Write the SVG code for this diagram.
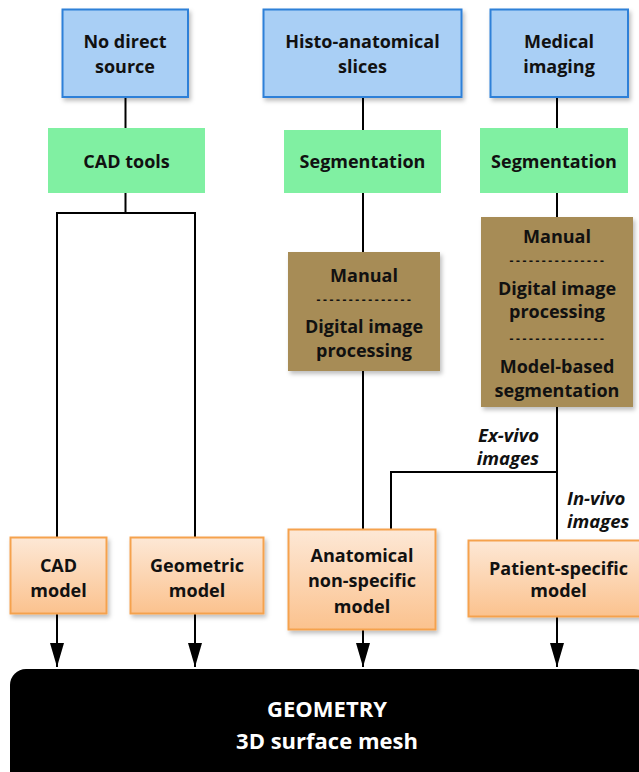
<svg xmlns="http://www.w3.org/2000/svg" width="639" height="772" viewBox="0 0 639 772">
<defs>
<linearGradient id="og" x1="0" y1="0" x2="0" y2="1">
<stop offset="0" stop-color="#fde8d6"/>
<stop offset="1" stop-color="#fbc28e"/>
</linearGradient>
<filter id="sh" x="-10%" y="-10%" width="130%" height="130%">
<feDropShadow dx="2" dy="3" stdDeviation="2" flood-color="#000" flood-opacity="0.25"/>
</filter>
<marker id="ah" viewBox="0 0 24 14" refX="24" refY="7" markerWidth="24" markerHeight="14" markerUnits="userSpaceOnUse" orient="auto">
<path d="M0,0 L24,7 L0,14 Z" fill="#000"/>
</marker>
<style>
text{font-family:"Open Sans","Liberation Sans",sans-serif;font-weight:bold;text-anchor:middle;fill:#111;}
.t{font-size:18px;}
.d{font-size:12px;letter-spacing:2.6px;}
.it{font-size:18.5px;font-style:italic;}
.w{fill:#fff;font-size:22px;}
.blue{fill:#a9cff5;stroke:#2f80d8;stroke-width:2;}
.green{fill:#80f0a2;}
.brown{fill:#a78c57;}
.orange{fill:url(#og);stroke:#f5a24e;stroke-width:2;}
.c{fill:none;stroke:#000;stroke-width:2;}
</style>
</defs>
<rect width="639" height="772" fill="#fff"/>

<g id="connectors">
<path class="c" d="M125.5,97 V128"/>
<path class="c" d="M125.5,193 V213 M57,213 H195 M57,212 V537 M195,212 V537"/>
<path class="c" d="M363,97 V130 M363,192 V252 M363,371 V529"/>
<path class="c" d="M557,97 V128 M557,192 V217 M557,407 V540"/>
<path class="c" d="M391,529 V472 H557"/>
<path class="c" d="M57,614 V667" marker-end="url(#ah)"/>
<path class="c" d="M195,614 V667" marker-end="url(#ah)"/>
<path class="c" d="M363,630 V667" marker-end="url(#ah)"/>
<path class="c" d="M557,617 V667" marker-end="url(#ah)"/>
</g>

<g id="n-nodirect">
<rect class="blue" x="62.5" y="9.5" width="125.5" height="87.5" filter="url(#sh)"/>
<text class="t" x="125" y="48">No direct</text>
<text class="t" x="125" y="73">source</text>
</g>
<g id="n-histo">
<rect class="blue" x="263.5" y="9.5" width="198" height="87.5" filter="url(#sh)"/>
<text class="t" x="362.5" y="48">Histo-anatomical</text>
<text class="t" x="362.5" y="73">slices</text>
</g>
<g id="n-medical">
<rect class="blue" x="490.5" y="9.5" width="137.5" height="87.5" filter="url(#sh)"/>
<text class="t" x="559" y="48">Medical</text>
<text class="t" x="559" y="73">imaging</text>
</g>

<g id="n-cadtools">
<rect class="green" x="48" y="128" width="157" height="65"/>
<text class="t" x="126.5" y="168">CAD tools</text>
</g>
<g id="n-seg1">
<rect class="green" x="284" y="130" width="157" height="63"/>
<text class="t" x="362.5" y="168">Segmentation</text>
</g>
<g id="n-seg2">
<rect class="green" x="480" y="128" width="148" height="65"/>
<text class="t" x="554" y="168">Segmentation</text>
</g>

<g id="n-proc1">
<rect class="brown" x="288" y="252" width="152" height="119" filter="url(#sh)"/>
<text class="t" x="364" y="282">Manual</text>
<text class="d" x="365" y="304">---------------</text>
<text class="t" x="364" y="333">Digital image</text>
<text class="t" x="364" y="357">processing</text>
</g>
<g id="n-proc2">
<rect class="brown" x="481" y="217" width="152" height="190" filter="url(#sh)"/>
<text class="t" x="557" y="243">Manual</text>
<text class="d" x="558" y="265">---------------</text>
<text class="t" x="557" y="295">Digital image</text>
<text class="t" x="557" y="318">processing</text>
<text class="d" x="558" y="343">---------------</text>
<text class="t" x="557" y="373">Model-based</text>
<text class="t" x="557" y="397">segmentation</text>
</g>

<g id="labels">
<text class="it" x="539" y="442" style="text-anchor:end">Ex-vivo</text>
<text class="it" x="539" y="465" style="text-anchor:end">images</text>
<text class="it" x="567" y="505" style="text-anchor:start">In-vivo</text>
<text class="it" x="567" y="528" style="text-anchor:start">images</text>
</g>

<g id="n-cadmodel">
<rect class="orange" x="10.5" y="537.5" width="96" height="76" filter="url(#sh)"/>
<text class="t" x="58.5" y="572">CAD</text>
<text class="t" x="58.5" y="597">model</text>
</g>
<g id="n-geom">
<rect class="orange" x="130.5" y="537.5" width="133" height="76" filter="url(#sh)"/>
<text class="t" x="197" y="572">Geometric</text>
<text class="t" x="197" y="597">model</text>
</g>
<g id="n-anat">
<rect class="orange" x="288.5" y="529.5" width="147" height="100" filter="url(#sh)"/>
<text class="t" x="362" y="562">Anatomical</text>
<text class="t" x="362" y="587">non-specific</text>
<text class="t" x="362" y="613">model</text>
</g>
<g id="n-patient">
<rect class="orange" x="468.5" y="540.5" width="172" height="76" filter="url(#sh)"/>
<text class="t" x="558.5" y="575">Patient-specific</text>
<text class="t" x="558.5" y="597">model</text>
</g>

<g id="n-geometry">
<rect x="10" y="669" width="640" height="130" rx="16" fill="#000"/>
<text class="w" x="327" y="717">GEOMETRY</text>
<text class="w" x="327" y="749">3D surface mesh</text>
</g>
</svg>
